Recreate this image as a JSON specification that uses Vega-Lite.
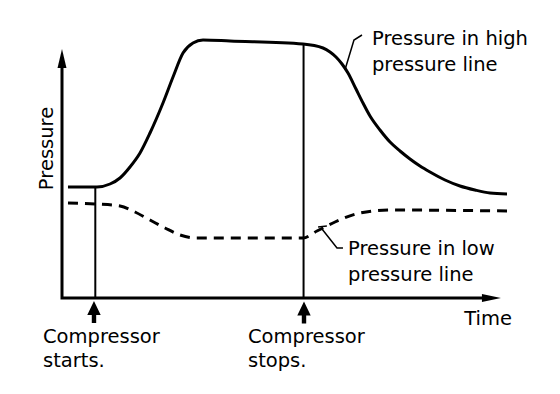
{
  "$schema": "https://vega.github.io/schema/vega-lite/v6.json",
  "width": 560,
  "height": 394,
  "autosize": {"type": "fit", "contains": "padding"},
  "padding": 0,
  "background": "white",
  "config": {"view": {"stroke": null}},
  "datasets": {
    "axes": [
      {"t": 0, "p": 95, "o": 1},
      {"t": 0, "p": 0, "o": 2},
      {"t": 96, "p": 0, "o": 3}
    ],
    "vlines": [
      {"t": 7.57, "p": 0, "p2": 44.4},
      {"t": 54.9, "p": 0, "p2": 101.6}
    ],
    "high": [
      {"t": 1.36, "p": 44.4},
      {"t": 7.95, "p": 44.4},
      {"t": 10.91, "p": 45.6},
      {"t": 13.18, "p": 48},
      {"t": 15.45, "p": 52.4},
      {"t": 17.73, "p": 58},
      {"t": 20, "p": 66},
      {"t": 22.95, "p": 78},
      {"t": 25.23, "p": 88.4},
      {"t": 27.5, "p": 98},
      {"t": 29.77, "p": 102},
      {"t": 32.05, "p": 103.2},
      {"t": 38.18, "p": 102.8},
      {"t": 54.77, "p": 101.6},
      {"t": 59.32, "p": 100},
      {"t": 60.91, "p": 98.4},
      {"t": 62.27, "p": 96.4},
      {"t": 63.64, "p": 93.6},
      {"t": 65, "p": 90},
      {"t": 66.82, "p": 83.6},
      {"t": 68.41, "p": 78},
      {"t": 70, "p": 72.8},
      {"t": 72.27, "p": 67.2},
      {"t": 74.55, "p": 62.4},
      {"t": 76.82, "p": 58.8},
      {"t": 79.09, "p": 55.6},
      {"t": 81.36, "p": 52.8},
      {"t": 83.64, "p": 50.4},
      {"t": 87.05, "p": 47.2},
      {"t": 90.45, "p": 44.8},
      {"t": 93.86, "p": 43.2},
      {"t": 97.27, "p": 42},
      {"t": 101.14, "p": 41.6}
    ],
    "low": [
      {"t": 1.36, "p": 38},
      {"t": 7.95, "p": 37.6},
      {"t": 13.18, "p": 36.8},
      {"t": 16.59, "p": 34.4},
      {"t": 20, "p": 31.2},
      {"t": 23.41, "p": 28},
      {"t": 26.82, "p": 25.2},
      {"t": 30.23, "p": 24},
      {"t": 54.77, "p": 24},
      {"t": 57.95, "p": 26.8},
      {"t": 62.05, "p": 30.4},
      {"t": 67.73, "p": 34},
      {"t": 74.55, "p": 35.2},
      {"t": 101.14, "p": 34.8}
    ],
    "leaders": [
      {"id": "h", "t": 64.3, "p": 91.2, "o": 1},
      {"id": "h", "t": 66.36, "p": 103.2, "o": 2},
      {"id": "h", "t": 68.18, "p": 105.2, "o": 3},
      {"id": "l", "t": 59.09, "p": 27.6, "o": 1},
      {"id": "l", "t": 62.5, "p": 20, "o": 2},
      {"id": "l", "t": 63.86, "p": 20, "o": 3},
      {"id": "lt", "t": 58.2, "p": 28.4, "o": 1},
      {"id": "lt", "t": 60.2, "p": 28.8, "o": 2}
    ],
    "arrowsUp": [
      {"t": 7.27, "p": -5.6},
      {"t": 55, "p": -5.8}
    ],
    "arrowY": [{"t": 0, "p": 95.8}],
    "arrowX": [{"t": 97.6, "p": 0}],
    "labels": [
      {"label": "Compressor", "t": -4.32, "p": -18},
      {"label": "starts.", "t": -4.32, "p": -27.6},
      {"label": "Compressor", "t": 42.27, "p": -18},
      {"label": "stops.", "t": 42.27, "p": -27.6},
      {"label": "Time", "t": 91.4, "p": -10.8},
      {"label": "Pressure in high", "t": 70.45, "p": 101.2},
      {"label": "pressure line", "t": 70.45, "p": 90.8},
      {"label": "Pressure in low", "t": 65, "p": 17.2},
      {"label": "pressure line", "t": 65, "p": 6.8}
    ],
    "ylabel": [{"label": "Pressure", "t": -2.05, "p": 59.8}]
  },
  "encoding": {
    "x": {"field": "t", "type": "quantitative", "scale": {"domain": [-14.0909, 113.1818], "nice": false, "zero": false}, "axis": null},
    "y": {"field": "p", "type": "quantitative", "scale": {"domain": [-38.4, 119.2], "nice": false, "zero": false}, "axis": null}
  },
  "layer": [
    {
      "data": {"name": "axes"},
      "mark": {"type": "line", "color": "black", "strokeWidth": 3, "strokeJoin": "miter", "strokeCap": "butt"},
      "encoding": {"order": {"field": "o", "type": "quantitative"}}
    },
    {
      "data": {"name": "vlines"},
      "mark": {"type": "rule", "color": "black", "strokeWidth": 2},
      "encoding": {"y2": {"field": "p2"}}
    },
    {
      "data": {"name": "high"},
      "mark": {"type": "line", "color": "black", "strokeWidth": 3, "interpolate": "monotone"},
      "encoding": {}
    },
    {
      "data": {"name": "low"},
      "mark": {"type": "line", "color": "black", "strokeWidth": 3, "interpolate": "monotone", "strokeDash": [10, 7]},
      "encoding": {}
    },
    {
      "data": {"name": "leaders"},
      "mark": {"type": "line", "color": "black", "strokeWidth": 1.5},
      "encoding": {"detail": {"field": "id"}, "order": {"field": "o", "type": "quantitative"}}
    },
    {
      "data": {"name": "arrowsUp"},
      "mark": {"type": "point", "filled": true, "color": "black", "opacity": 1, "strokeWidth": 0, "size": 484,
        "shape": "M0,-1 L0.61,0.27 L0.2,0.27 L0.2,1 L-0.2,1 L-0.2,0.27 L-0.61,0.27 Z"},
      "encoding": {}
    },
    {
      "data": {"name": "arrowY"},
      "mark": {"type": "point", "filled": true, "color": "black", "opacity": 1, "strokeWidth": 0, "size": 361,
        "shape": "M0,-1 L0.47,1 L-0.47,1 Z"},
      "encoding": {}
    },
    {
      "data": {"name": "arrowX"},
      "mark": {"type": "point", "filled": true, "color": "black", "opacity": 1, "strokeWidth": 0, "size": 361,
        "shape": "M1,0 L-1,-0.42 L-1,0.42 Z"},
      "encoding": {}
    },
    {
      "data": {"name": "labels"},
      "mark": {"type": "text", "font": "DejaVu Sans", "fontSize": 19.5, "color": "black", "align": "left", "baseline": "alphabetic"},
      "encoding": {"text": {"field": "label"}}
    },
    {
      "data": {"name": "ylabel"},
      "mark": {"type": "text", "font": "DejaVu Sans", "fontSize": 19.5, "color": "black", "align": "center", "baseline": "alphabetic", "angle": 270},
      "encoding": {"text": {"field": "label"}}
    }
  ]
}
